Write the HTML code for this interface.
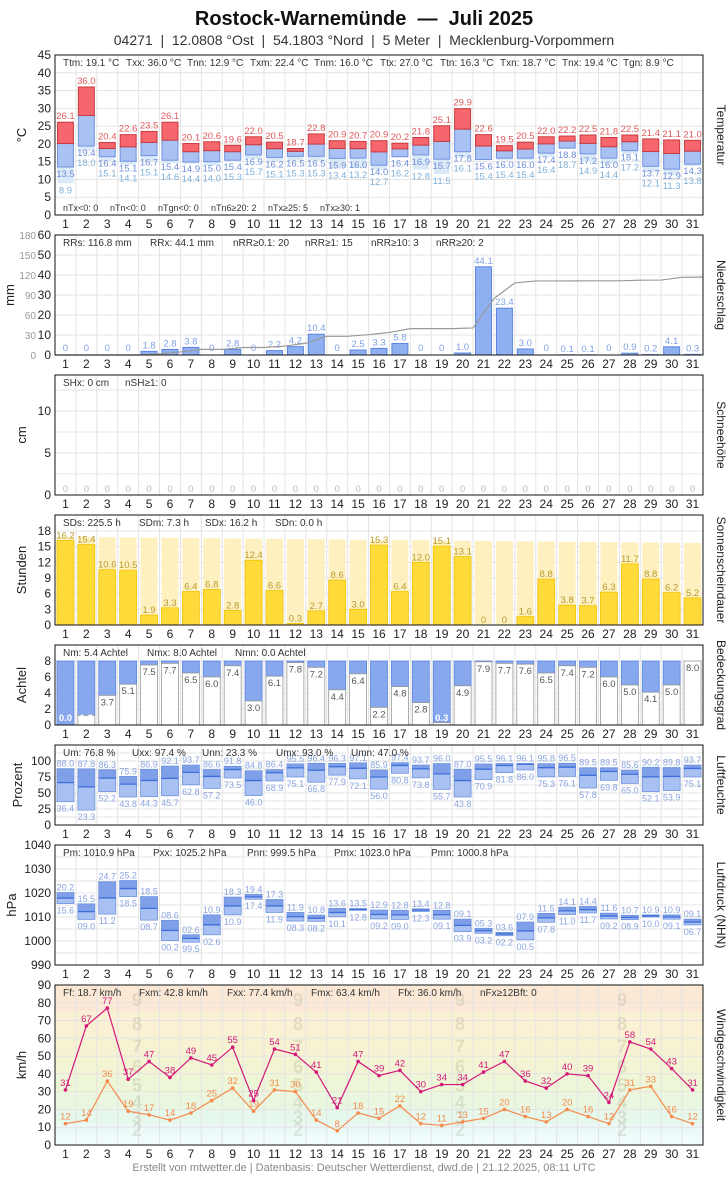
<!DOCTYPE html>
<html><head><meta charset="utf-8">
<style>
body{margin:0;background:#fff;width:728px;height:1175px;overflow:hidden;font-family:"Liberation Sans",sans-serif}
svg text{font-family:"Liberation Sans",sans-serif}
</style></head><body>
<svg id="s" width="728" height="1175" xmlns="http://www.w3.org/2000/svg"></svg>
<script>
(function(){
const S=document.getElementById('s');let h='';
const L=55,R=703,W=(R-L)/31;
const cx=d=>L+W*(d-0.5);
const esc=s=>String(s).replace(/&/g,'&amp;').replace(/</g,'&lt;').replace(/>/g,'&gt;');
function t(x,y,s,o){o=o||{};h+=`<text x="${x}" y="${y}" font-size="${o.fs||12}" fill="${o.c||'#222'}" text-anchor="${o.a||'middle'}"${o.w?` font-weight="${o.w}"`:''}${o.r?` transform="rotate(${o.r} ${x} ${y})"`:''}>${esc(s)}</text>`;}
function r(x,y,w,hh,f,st,sw){if(hh<0){y+=hh;hh=-hh;}h+=`<rect x="${x}" y="${y}" width="${w}" height="${hh}" fill="${f}"${st?` stroke="${st}" stroke-width="${sw||1}"`:''}/>`;}
function ln(x1,y1,x2,y2,c,w){h+=`<line x1="${x1}" y1="${y1}" x2="${x2}" y2="${y2}" stroke="${c}" stroke-width="${w||1}"/>`;}
function panel(pt,pb,mn,mx,ticks,title,rtitle,gridExtra,tx){
  const y=v=>pb-(v-mn)*(pb-pt)/(mx-mn);
  for(let d=1;d<31;d++)ln(L+W*d,pt,L+W*d,pb,'#e4e4e4');
  (gridExtra||ticks).forEach(v=>ln(L,y(v),R,y(v),'#e4e4e4'));
  ticks.forEach(v=>t(51,y(v)+4,v,{a:'end'}));
  t(tx||26,(pt+pb)/2,title,{r:-90,fs:13});
  t(717,(pt+pb)/2,rtitle,{r:90,fs:12});
  for(let d=1;d<=31;d++)t(cx(d),pb+13,d);
  return y;
}
function border(pt,pb){h+=`<rect x="${L}" y="${pt}" width="${R-L}" height="${pb-pt}" fill="none" stroke="#111" stroke-width="1"/>`;}
function stats(pt,arr){arr.forEach(a=>t(a[0],pt+11,a[1],{a:'start',fs:10,c:'#333'}));}
const N='\u00a0';
t(364,25,'Rostock-Warnemünde'+N+N+'—'+N+N+'Juli 2025',{fs:20,w:'bold',c:'#111'});
t(364,45,['04271','12.0808 °Ost','54.1803 °Nord','5 Meter','Mecklenburg-Vorpommern'].join(N+N+'|'+N+N),{fs:14,c:'#333'});

let mx=[26.1,36.0,20.4,22.6,23.5,26.1,20.1,20.6,19.6,22.0,20.5,18.7,22.8,20.9,20.7,20.9,20.2,21.8,25.1,29.9,22.6,19.5,20.5,22.0,22.2,22.5,21.8,22.5,21.4,21.1,21.0];
let mi=[13.5,19.4,16.4,15.1,16.7,15.4,14.9,15.0,15.4,16.9,16.2,16.5,16.5,15.9,16.0,14.0,16.4,16.9,15.7,17.8,15.6,16.0,16.0,17.4,18.8,17.2,16.0,18.1,13.7,12.9,14.3];
let gm=[8.9,18.0,15.1,14.1,15.1,14.6,14.4,14.0,15.3,15.7,15.1,15.3,15.3,13.4,13.2,12.7,16.2,12.8,11.5,16.1,15.4,15.4,15.4,16.4,18.7,14.9,14.4,17.2,12.1,11.3,13.8];
let y=panel(55,215,0,45,[0,5,10,15,20,25,30,35,40,45],'°C','Temperatur');
for(let i=0;i<31;i++){const d=i+1,x=cx(d)-8,me=(mx[i]+mi[i])/2+0.3;
 if(gm[i]<mi[i])r(x,y(mi[i]),16,y(gm[i])-y(mi[i]),'#dbe9f7');
 r(x,y(me),16,y(mi[i])-y(me),'#a9c1f3','#6f93e0');
 r(x,y(mx[i]),16,y(me)-y(mx[i]),'#f5676c','#c93a40');
 t(cx(d),y(mx[i])-3,mx[i].toFixed(1),{fs:9.5,c:'#e0585c'});
 t(cx(d),y(mi[i])+10,mi[i].toFixed(1),{fs:9.5,c:'#6f8ed8'});
 t(cx(d),Math.max(y(gm[i]),y(mi[i])+10)+10,gm[i].toFixed(1),{fs:9.5,c:'#7fb0d8'});}
stats(55,[[63,'Ttm: 19.1 °C'],[126,'Txx: 36.0 °C'],[187,'Tnn: 12.9 °C'],[250,'Txm: 22.4 °C'],[314,'Tnm: 16.0 °C'],[380,'Ttx: 27.0 °C'],[440,'Ttn: 16.3 °C'],[500,'Txn: 18.7 °C'],[562,'Tnx: 19.4 °C'],[623,'Tgn: 8.9 °C']]);
[[63,'nTx<0: 0'],[110,'nTn<0: 0'],[158,'nTgn<0: 0'],[211,'nTn6≥20: 2'],[268,'nTx≥25: 5'],[320,'nTx≥30: 1']].forEach(a=>t(a[0],211,a[1],{a:'start',fs:9,c:'#333'}));
border(55,215);

let pr=[0,0,0,0,1.8,2.8,3.8,0,2.8,0,2.2,4.2,10.4,0,2.5,3.3,5.8,0,0,1.0,44.1,23.4,3.0,0,0.1,0.1,0,0.9,0.2,4.1,0.3];
y=panel(235,355,0,60,[0,10,20,30,40,50,60],'mm','Niederschlag',null,14);
[0,30,60,90,120,150,180].forEach(v=>t(36,355-v*120/180+4,v,{a:'end',fs:10,c:'#999'}));
let cs=0,pts=[[L,355]];
for(let i=0;i<31;i++){const d=i+1;if(pr[i]>0)r(cx(d)-8,y(pr[i]),16,y(0)-y(pr[i]),'#8fb0f0','#5b85e0');
 t(cx(d),pr[i]>0?y(pr[i])-3:351,pr[i]?pr[i].toFixed(1):'0',{fs:9.5,c:'#7f9fe6'});
 cs+=pr[i];pts.push([cx(d)+W/2,355-cs*120/180]);}
h+=`<polyline points="${pts.map(p=>p.join(',')).join(' ')}" fill="none" stroke="#999" stroke-width="1.2"/>`;
stats(235,[[63,'RRs: 116.8 mm'],[150,'RRx: 44.1 mm'],[233,'nRR≥0.1: 20'],[305,'nRR≥1: 15'],[371,'nRR≥10: 3'],[436,'nRR≥20: 2']]);
border(235,355);

y=panel(375,495,0,120/8.4,[0,5,10],'cm','Schneehöhe',[0,2.5,5,7.5,10,12.5]);
for(let d=1;d<=31;d++)t(cx(d),492,'0',{fs:9.5,c:'#bbb'});
stats(375,[[63,'SHx: 0 cm'],[125,'nSH≥1: 0']]);
border(375,495);

let su=[16.2,15.4,10.6,10.5,1.9,3.3,6.4,6.8,2.8,12.4,6.6,0.3,2.7,8.6,3.0,15.3,6.4,12.0,15.1,13.1,0,0,1.6,8.8,3.8,3.7,6.3,11.7,8.8,6.2,5.2];
y=panel(515,625,0,110/5.222,[0,3,6,9,12,15,18],'Stunden','Sonnenscheindauer');
for(let i=0;i<31;i++){const d=i+1,m=16.9-i*0.04;
 r(cx(d)-8.5,y(m),17,y(0)-y(m),'#fff0bf');
 if(su[i]>0)r(cx(d)-8.5,y(su[i]),17,y(0)-y(su[i]),'#ffdb3a','#f2c200',0.8);
 t(cx(d),y(su[i])-2,su[i]?su[i].toFixed(1):'0',{fs:9.5,c:'#b89a30'});}
stats(515,[[63,'SDs: 225.5 h'],[139,'SDm: 7.3 h'],[205,'SDx: 16.2 h'],[275,'SDn: 0.0 h']]);
border(515,625);

let cl=[0.0,1.2,3.7,5.1,7.5,7.7,6.5,6.0,7.4,3.0,6.1,7.8,7.2,4.4,6.4,2.2,4.8,2.8,0.3,4.9,7.9,7.7,7.6,6.5,7.4,7.2,6.0,5.0,4.1,5.0,8.0];
y=panel(645,725,0,10,[0,2,4,6,8],'Achtel','Bedeckungsgrad');
for(let i=0;i<31;i++){const d=i+1,x=cx(d)-8.5;
 r(x,y(8),17,y(cl[i])-y(8),'#88a8ee','#5b85e0',0.8);
 if(cl[i]>0)r(x,y(cl[i]),17,y(0)-y(cl[i]),'#fff','#999',0.8);
 if(cl[i]<1.5)t(cx(d),721,cl[i].toFixed(1),{fs:9.5,c:'#fff',w:'bold'});
 else t(cx(d),y(cl[i])+10,cl[i].toFixed(1),{fs:9.5,c:'#555'});}
stats(645,[[63,'Nm: 5.4 Achtel'],[147,'Nmx: 8.0 Achtel'],[235,'Nmn: 0.0 Achtel']]);
border(645,725);

let ux=[88.0,87.8,86.3,75.9,86.9,92.1,93.7,86.6,91.8,84.8,86.4,95.5,96.4,96.3,97.1,85.9,97.4,93.7,96.0,87.0,95.5,96.1,96.1,95.8,96.5,89.5,89.5,85.6,90.2,89.8,93.7];
let un=[36.4,23.3,52.2,43.8,44.3,45.7,62.8,57.2,73.5,46.0,68.9,75.1,66.8,77.9,72.1,56.0,80.8,73.8,55.7,43.8,70.9,81.8,86.0,75.3,76.1,57.8,69.8,65.0,52.1,53.9,75.1];
y=panel(745,825,0,125,[0,25,50,75,100],'Prozent','Luftfeuchte',[0,12.5,25,37.5,50,62.5,75,87.5,100,112.5],22);
for(let i=0;i<31;i++){const d=i+1,x=cx(d)-8.5,me=(ux[i]+un[i])/2+4;
 r(x,y(me),17,y(un[i])-y(me),'#a9c0f2');
 r(x,y(ux[i]),17,y(me)-y(ux[i]),'#7f9fe8');
 r(x,y(ux[i]),17,y(un[i])-y(ux[i]),'none','#6f93e0',0.8);
 ln(x,y(me),x+17,y(me),'#3f6fd8',1.3);
 t(cx(d),y(ux[i])-2,ux[i].toFixed(1),{fs:9,c:'#8aa4e0'});
 t(cx(d),y(un[i])+10,un[i].toFixed(1),{fs:9,c:'#8aa4e0'});}
stats(745,[[63,'Um: 76.8 %'],[132,'Uxx: 97.4 %'],[202,'Unn: 23.3 %'],[276,'Umx: 93.0 %'],[351,'Umn: 47.0 %']]);
border(745,825);

let px=[20.2,15.5,24.7,25.2,18.5,8.6,2.6,10.9,18.3,19.4,17.3,11.9,10.8,13.6,13.5,12.9,12.8,13.4,12.8,9.1,5.3,3.6,7.9,11.5,14.1,14.4,11.6,10.7,10.9,10.9,9.1];
let pn=[15.6,9.0,11.2,18.5,8.7,0.2,-0.5,2.6,10.9,17.4,11.9,8.3,8.2,10.1,12.8,9.2,9.0,12.3,9.1,3.9,3.2,2.2,0.5,7.8,11.0,11.7,9.2,8.9,10.0,9.1,6.7];
const f2=v=>v<0?(100+v).toFixed(1):(v<10?'0':'')+v.toFixed(1);
y=panel(845,965,990,1040,[990,1000,1010,1020,1030,1040],'hPa','Luftdruck (NHN)',[990,995,1000,1005,1010,1015,1020,1025,1030,1035],16);
for(let i=0;i<31;i++){const d=i+1,x=cx(d)-8.5,a=1000+px[i],b=1000+pn[i],me=(a+b)/2;
 r(x,y(me),17,y(b)-y(me),'#a9c0f2');
 r(x,y(a),17,y(me)-y(a),'#7f9fe8');
 r(x,y(a),17,y(b)-y(a),'none','#6f93e0',0.8);
 ln(x,y(me),x+17,y(me),'#3f6fd8',1.3);
 t(cx(d),y(a)-2,f2(px[i]),{fs:9,c:'#8aa4e0'});
 t(cx(d),y(b)+10,f2(pn[i]),{fs:9,c:'#8aa4e0'});}
stats(845,[[63,'Pm: 1010.9 hPa'],[153,'Pxx: 1025.2 hPa'],[247,'Pnn: 999.5 hPa'],[334,'Pmx: 1023.0 hPa'],[431,'Pmn: 1000.8 hPa']]);
border(845,965);

let fx=[31,67,77,37,47,38,49,45,55,25,54,51,41,21,47,39,42,30,34,34,41,47,36,32,40,39,24,58,54,43,31];
let ff=[12,14,36,19,17,14,18,25,32,19,31,30,14,8,18,15,22,12,11,13,15,20,16,13,20,16,12,31,33,16,12];
const wtop=985,wbot=1145,yw=v=>wbot-v*(wbot-wtop)/90;
const bands=[[0,1,'#f8ffff'],[1,6,'#effbfd'],[6,12,'#ebf9f7'],[12,20,'#e6f7ec'],[20,29,'#eaf7e0'],[29,39,'#eef6d8'],[39,50,'#f2f4d4'],[50,62,'#f7f2d2'],[62,75,'#faf0d4'],[75,90,'#fbe9d6']];
bands.forEach(b=>r(L,yw(b[1]),R-L,yw(b[0])-yw(b[1]),b[2]));
y=panel(985,1145,0,90,[0,10,20,30,40,50,60,70,80,90],'km/h','Windgeschwindigkeit');
[[2,9],[3,16],[4,24.5],[5,34],[6,44.5],[7,56],[8,68.5],[9,82]].forEach(b=>[137,298,460,622].forEach(x=>t(x,yw(b[1])+7,b[0],{fs:18,w:'bold',c:'rgba(150,150,120,0.22)'})));
function series(a,c){h+=`<polyline points="${a.map((v,i)=>cx(i+1)+','+yw(v)).join(' ')}" fill="none" stroke="${c}" stroke-width="1.2"/>`;
 a.forEach((v,i)=>{h+=`<circle cx="${cx(i+1)}" cy="${yw(v)}" r="1.8" fill="${c}"/>`;t(cx(i+1),yw(v)-4,v,{fs:9.5,c:c});});}
series(ff,'#f58a4c');series(fx,'#d3187a');
stats(985,[[63,'Ff: 18.7 km/h'],[139,'Fxm: 42.8 km/h'],[227,'Fxx: 77.4 km/h'],[311,'Fmx: 63.4 km/h'],[398,'Ffx: 36.0 km/h'],[480,'nFx≥12Bft: 0']]);
border(985,1145);

t(364,1171,'Erstellt von mtwetter.de | Datenbasis: Deutscher Wetterdienst, dwd.de | 21.12.2025, 08:11 UTC',{fs:11,c:'#888'});
S.innerHTML=h;
})();
</script>
</body></html>
